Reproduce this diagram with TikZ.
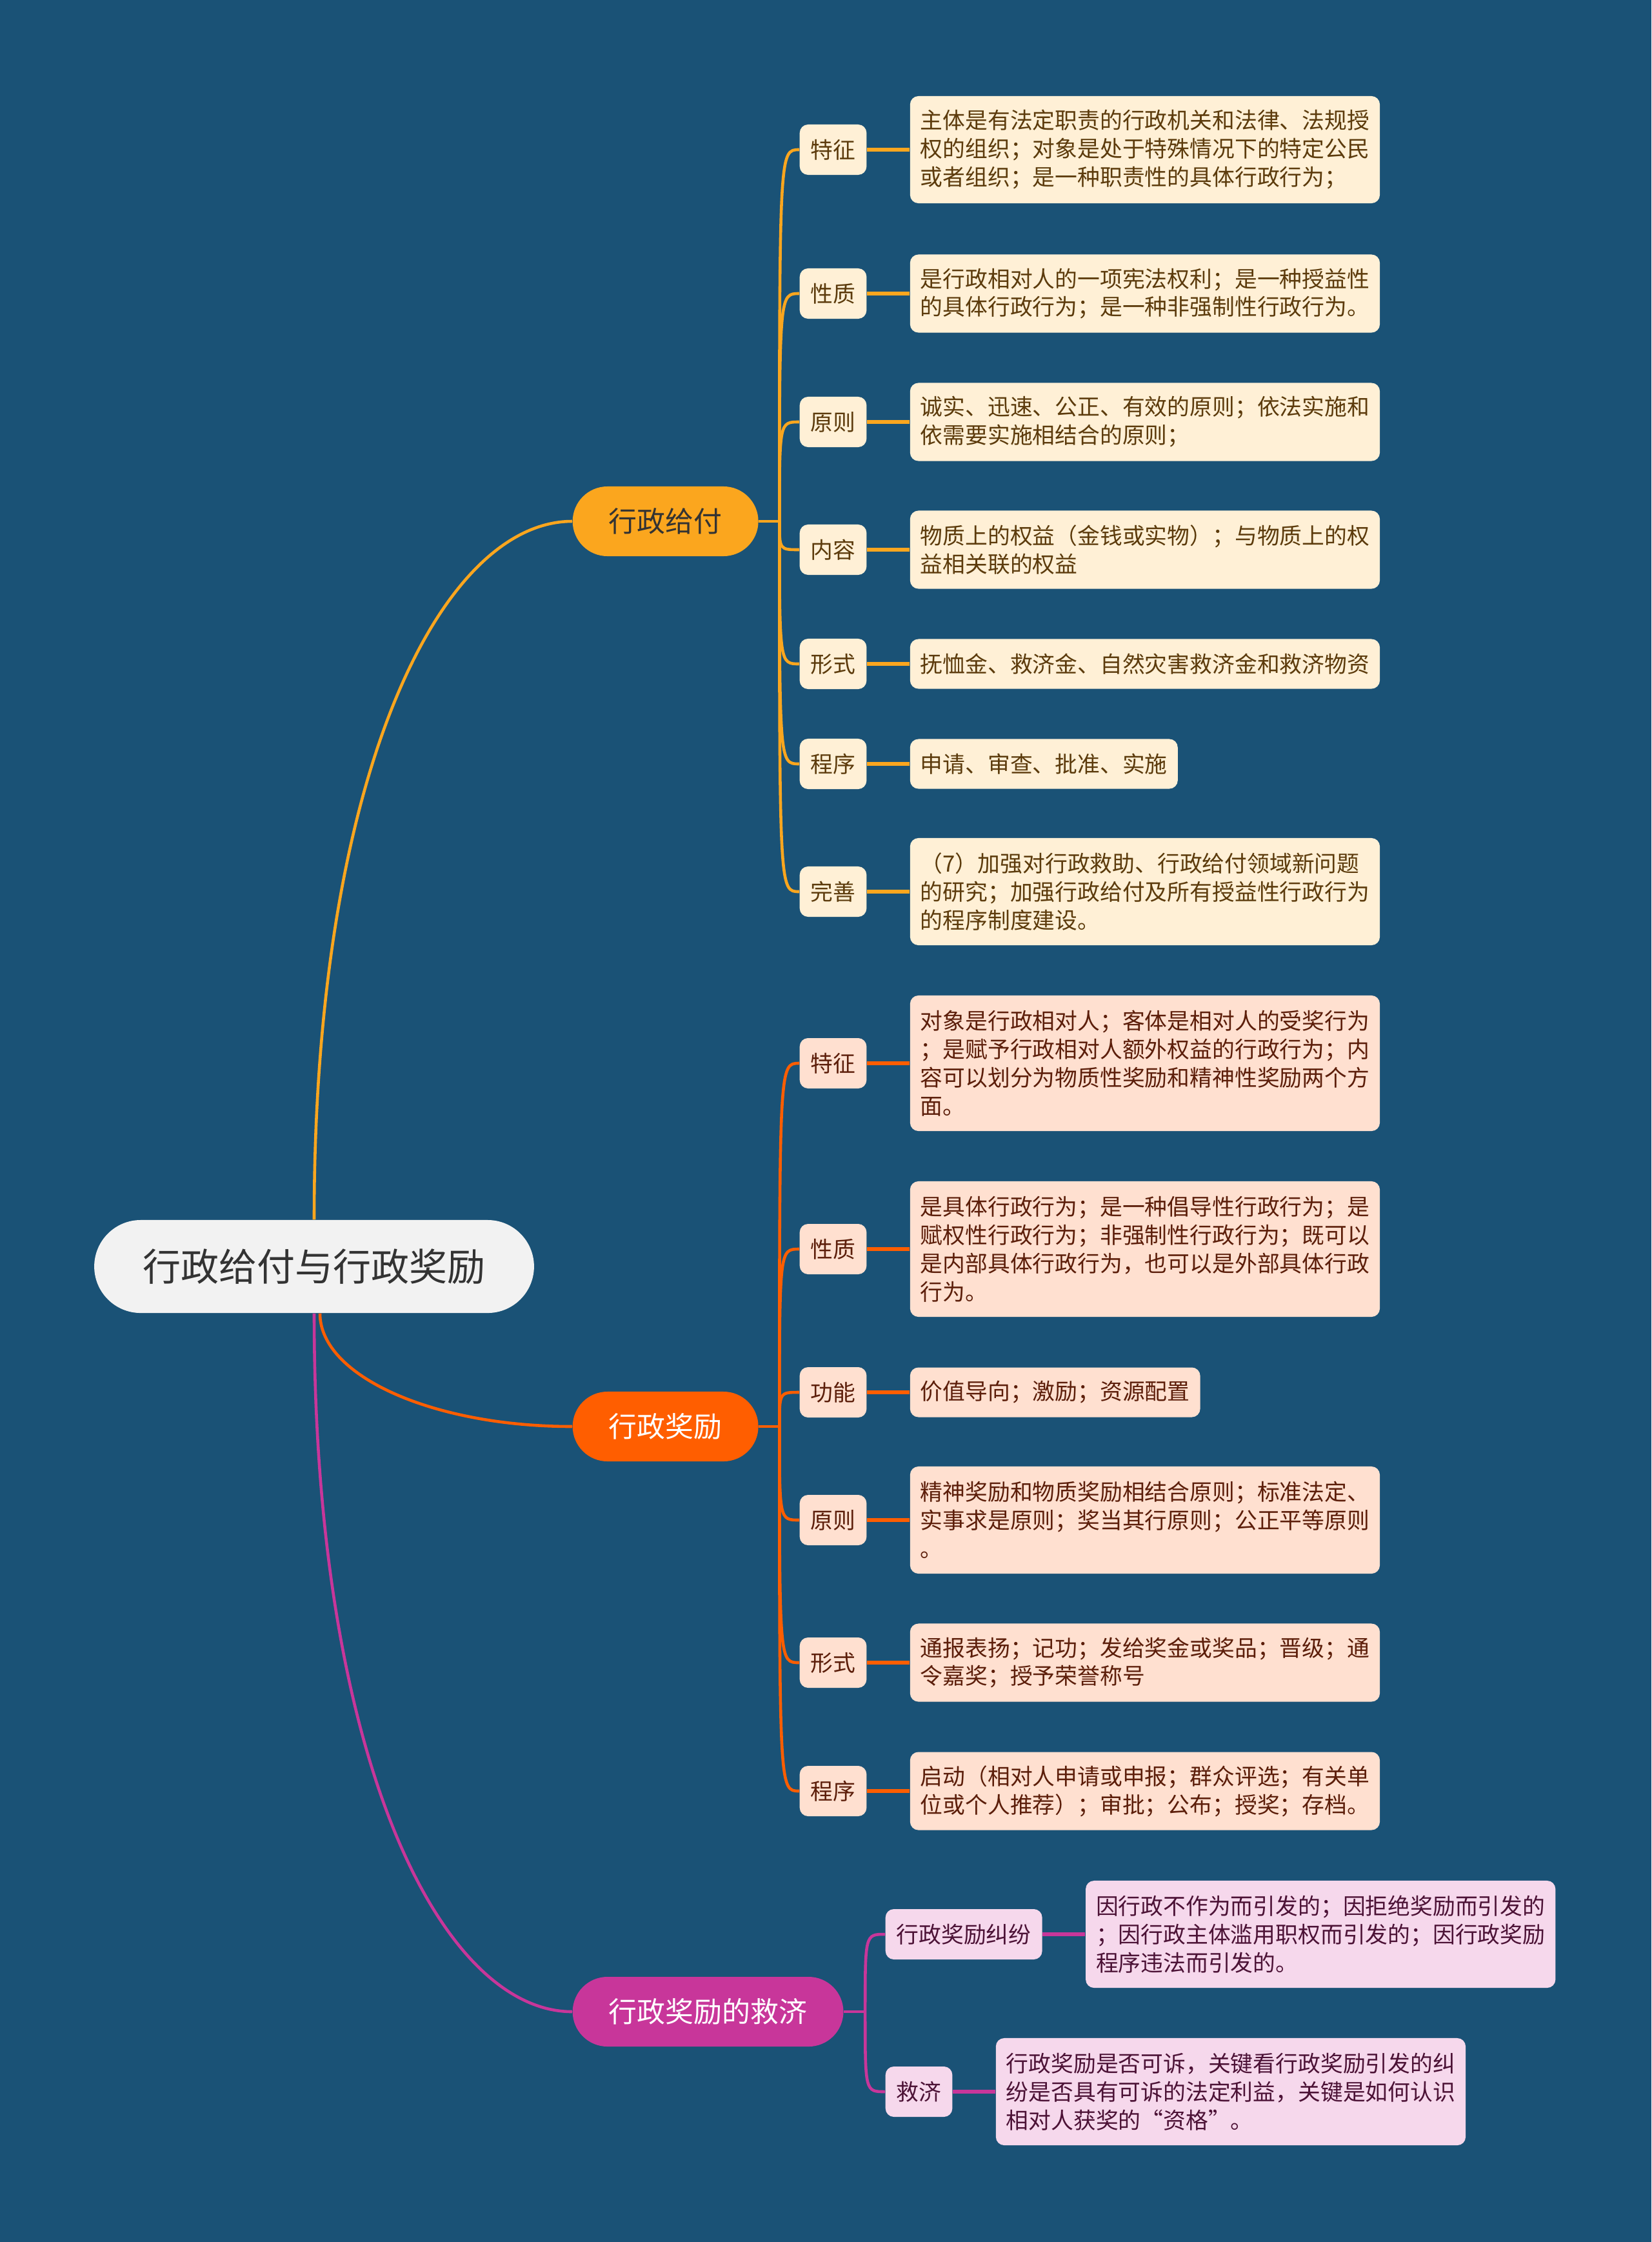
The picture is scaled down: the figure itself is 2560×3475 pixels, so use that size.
\documentclass[tikz,border=0pt]{standalone}
\usepackage{fontspec}
\setmainfont{Noto Sans CJK SC}
\usepackage{xcolor}
\usetikzlibrary{positioning}

\definecolor{bgblue}{HTML}{1A5276}
\definecolor{rootgray}{HTML}{F2F2F2}
\definecolor{rootink}{HTML}{333333}
\definecolor{gforange}{HTML}{FBA61E}
\definecolor{gfpale}{HTML}{FFF0D6}
\definecolor{gfink}{HTML}{5C3B0C}
\definecolor{jlorange}{HTML}{FF5E00}
\definecolor{jlpale}{HTML}{FFE0D0}
\definecolor{jlink}{HTML}{5C1E0A}
\definecolor{jjpink}{HTML}{C8369A}
\definecolor{jjpale}{HTML}{F6D8EC}
\definecolor{jjink}{HTML}{4C1236}

\begin{document}
\begin{tikzpicture}[
  x=0.01cm, y=-0.01cm,
  root/.style={fill=rootgray, text=rootink, rounded corners=0.72cm, minimum height=1.44cm, inner xsep=0.75cm, font=\fontsize{16.8pt}{20pt}\selectfont},
  topic/.style={rounded corners=0.54cm, minimum height=1.08cm, inner xsep=0.56cm, anchor=west, font=\fontsize{12.5pt}{15pt}\selectfont},
  sub/.style={rounded corners=0.13cm, minimum height=0.78cm, inner xsep=0.17cm, anchor=west, font=\fontsize{9.9pt}{12.5pt}\selectfont},
  leaf/.style={rounded corners=0.13cm, minimum height=#1, inner xsep=0.16cm, inner ysep=0.1cm, align=left, font=\fontsize{9.9pt}{12.5pt}\selectfont},
  leaf/.default=0.77cm,
  gfbox/.style={fill=gfpale, text=gfink},
  jlbox/.style={fill=jlpale, text=jlink},
  jjbox/.style={fill=jjpale, text=jjink},
  gfline/.style={draw=gforange, line width=1.3pt},
  jlline/.style={draw=jlorange, line width=1.3pt},
  jjline/.style={draw=jjpink, line width=1.3pt},
  tie/.style={line width=1.6pt}
]

\fill[bgblue] (0,0) rectangle (2560,3475);

\node[root] (root) at (487,1963) {行政给付与行政奖励};

\node[topic, fill=gforange, text=rootink] (gf) at (887,808) {行政给付};
\node[topic, fill=jlorange, text=white] (jl) at (887,2211) {行政奖励};
\node[topic, fill=jjpink, text=white] (jj) at (887,3118) {行政奖励的救济};

% 行政给付
\node[sub, gfbox] (gf1) at (1239,232) {特征};
\node[sub, gfbox] (gf2) at (1239,455) {性质};
\node[sub, gfbox] (gf3) at (1239,654) {原则};
\node[sub, gfbox] (gf4) at (1239,852) {内容};
\node[sub, gfbox] (gf5) at (1239,1029) {形式};
\node[sub, gfbox] (gf6) at (1239,1184) {程序};
\node[sub, gfbox] (gf7) at (1239,1382) {完善};

\node[leaf=1.66cm, gfbox, right=0.66cm of gf1] (gf1d) {主体是有法定职责的行政机关和法律、法规授\\权的组织；对象是处于特殊情况下的特定公民\\或者组织；是一种职责性的具体行政行为；};
\node[leaf=1.21cm, gfbox, right=0.66cm of gf2] (gf2d) {是行政相对人的一项宪法权利；是一种授益性\\的具体行政行为；是一种非强制性行政行为。};
\node[leaf=1.21cm, gfbox, right=0.66cm of gf3] (gf3d) {诚实、迅速、公正、有效的原则；依法实施和\\依需要实施相结合的原则；};
\node[leaf=1.21cm, gfbox, right=0.66cm of gf4] (gf4d) {物质上的权益（金钱或实物）；与物质上的权\\益相关联的权益};
\node[leaf, gfbox, right=0.66cm of gf5] (gf5d) {抚恤金、救济金、自然灾害救济金和救济物资};
\node[leaf, gfbox, right=0.66cm of gf6] (gf6d) {申请、审查、批准、实施};
\node[leaf=1.66cm, gfbox, right=0.66cm of gf7] (gf7d) {（7）加强对行政救助、行政给付领域新问题\\的研究；加强行政给付及所有授益性行政行为\\的程序制度建设。};

% 行政奖励
\node[sub, jlbox] (jl1) at (1239,1648) {特征};
\node[sub, jlbox] (jl2) at (1239,1936) {性质};
\node[sub, jlbox] (jl3) at (1239,2158) {功能};
\node[sub, jlbox] (jl4) at (1239,2356) {原则};
\node[sub, jlbox] (jl5) at (1239,2577) {形式};
\node[sub, jlbox] (jl6) at (1239,2776) {程序};

\node[leaf=2.10cm, jlbox, right=0.66cm of jl1] (jl1d) {对象是行政相对人；客体是相对人的受奖行为\\；是赋予行政相对人额外权益的行政行为；内\\容可以划分为物质性奖励和精神性奖励两个方\\面。};
\node[leaf=2.10cm, jlbox, right=0.66cm of jl2] (jl2d) {是具体行政行为；是一种倡导性行政行为；是\\赋权性行政行为；非强制性行政行为；既可以\\是内部具体行政行为，也可以是外部具体行政\\行为。};
\node[leaf, jlbox, right=0.66cm of jl3] (jl3d) {价值导向；激励；资源配置};
\node[leaf=1.66cm, jlbox, right=0.66cm of jl4] (jl4d) {精神奖励和物质奖励相结合原则；标准法定、\\实事求是原则；奖当其行原则；公正平等原则\\。};
\node[leaf=1.21cm, jlbox, right=0.66cm of jl5] (jl5d) {通报表扬；记功；发给奖金或奖品；晋级；通\\令嘉奖；授予荣誉称号};
\node[leaf=1.21cm, jlbox, right=0.66cm of jl6] (jl6d) {启动（相对人申请或申报；群众评选；有关单\\位或个人推荐）；审批；公布；授奖；存档。};

% 行政奖励的救济
\node[sub, jjbox] (jj1) at (1372,2998) {行政奖励纠纷};
\node[sub, jjbox] (jj2) at (1372,3242) {救济};

\node[leaf=1.66cm, jjbox, right=0.66cm of jj1] (jj1d) {因行政不作为而引发的；因拒绝奖励而引发的\\；因行政主体滥用职权而引发的；因行政奖励\\程序违法而引发的。};
\node[leaf=1.66cm, jjbox, right=0.66cm of jj2] (jj2d) {行政奖励是否可诉，关键看行政奖励引发的纠\\纷是否具有可诉的法定利益，关键是如何认识\\相对人获奖的“资格”。};

% main branches
\draw[gfline] (root.north) .. controls +(0,-700) and +(-200,0) .. (gf.west);
\draw[jlline] ([xshift=0.09cm]root.south) .. controls +(0,97) and +(-216,0) .. (jl.west);
\draw[jjline] (root.south) .. controls +(0,700) and +(-200,0) .. (jj.west);

\coordinate[right=0.32cm of gf] (gfj);
\coordinate[right=0.32cm of jl] (jlj);
\coordinate[right=0.33cm of jj] (jjj);
\draw[gfline] (gf) -- (gfj);
\draw[jlline] (jl) -- (jlj);
\draw[jjline] (jj) -- (jjj);

\draw[gfline] (gfj) .. controls (gfj |- gf1) .. (gf1.west);
\draw[gfline] (gfj) .. controls (gfj |- gf2) .. (gf2.west);
\draw[gfline] (gfj) .. controls (gfj |- gf3) .. (gf3.west);
\draw[gfline] (gfj) .. controls (gfj |- gf4) .. (gf4.west);
\draw[gfline] (gfj) .. controls (gfj |- gf5) .. (gf5.west);
\draw[gfline] (gfj) .. controls (gfj |- gf6) .. (gf6.west);
\draw[gfline] (gfj) .. controls (gfj |- gf7) .. (gf7.west);

\draw[jlline] (jlj) .. controls (jlj |- jl1) .. (jl1.west);
\draw[jlline] (jlj) .. controls (jlj |- jl2) .. (jl2.west);
\draw[jlline] (jlj) .. controls (jlj |- jl3) .. (jl3.west);
\draw[jlline] (jlj) .. controls (jlj |- jl4) .. (jl4.west);
\draw[jlline] (jlj) .. controls (jlj |- jl5) .. (jl5.west);
\draw[jlline] (jlj) .. controls (jlj |- jl6) .. (jl6.west);

\draw[jjline] (jjj) .. controls (jjj |- jj1) .. (jj1.west);
\draw[jjline] (jjj) .. controls (jjj |- jj2) .. (jj2.west);

% sub to leaf
\draw[gfline, tie] (gf1) -- (gf1d);
\draw[gfline, tie] (gf2) -- (gf2d);
\draw[gfline, tie] (gf3) -- (gf3d);
\draw[gfline, tie] (gf4) -- (gf4d);
\draw[gfline, tie] (gf5) -- (gf5d);
\draw[gfline, tie] (gf6) -- (gf6d);
\draw[gfline, tie] (gf7) -- (gf7d);
\draw[jlline, tie] (jl1) -- (jl1d);
\draw[jlline, tie] (jl2) -- (jl2d);
\draw[jlline, tie] (jl3) -- (jl3d);
\draw[jlline, tie] (jl4) -- (jl4d);
\draw[jlline, tie] (jl5) -- (jl5d);
\draw[jlline, tie] (jl6) -- (jl6d);
\draw[jjline, tie] (jj1) -- (jj1d);
\draw[jjline, tie] (jj2) -- (jj2d);

\end{tikzpicture}
\end{document}
